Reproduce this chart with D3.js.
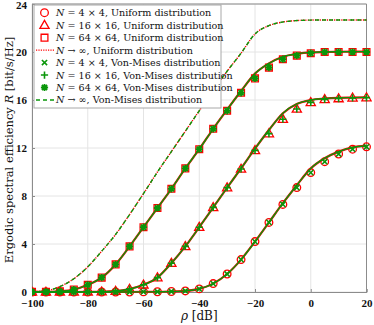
<!DOCTYPE html>
<html>
<head>
<meta charset="utf-8">
<script src="https://cdn.jsdelivr.net/npm/d3@7"></script>
<style>
  body { margin: 0; background: #fff; }
  svg { display: block; }
  .tick text { font-family: "Liberation Serif", "DejaVu Serif", serif; font-weight: bold; font-size: 11px; fill: #111; }
  .lab { font-family: "DejaVu Serif", "Liberation Serif", serif; fill: #111; }
</style>
</head>
<body>
<div id="chart"></div>
<script>
// SNR grid (dB)
const rho = [-100, -95, -90, -85, -80, -75, -70, -65, -60, -55, -50, -45, -40,
             -35, -30, -25, -20, -15, -10, -5, 0, 5, 10, 15, 20];

// N -> infinity (uniform and von-mises coincide)
const rInf = [0.02, 0.1, 0.45, 1.1, 2.1, 3.4, 4.8, 6.45, 8.2, 10.0, 11.7, 13.4, 15.1,
              16.8, 18.4, 19.9, 21.5, 22.2, 22.5, 22.62, 22.66, 22.67, 22.67, 22.67, 22.67];

// analytic curves (solid lines)
const line4  = [0, 0, 0, 0, 0, 0, 0, 0, 0.01, 0.02, 0.04, 0.09, 0.26,
                0.7, 1.5, 2.7, 4.2, 5.8, 7.4, 8.9, 10.3, 11.15, 11.7, 12.05, 12.17];
const line16 = [0, 0, 0, 0, 0.01, 0.02, 0.07, 0.25, 0.6, 1.2, 2.4, 3.8, 5.4,
                7.05, 8.7, 10.3, 11.95, 13.5, 14.9, 15.67, 16.0, 16.12, 16.18, 16.2, 16.22];
const line64 = [0.01, 0.02, 0.06, 0.2, 0.6, 1.2, 2.3, 3.8, 5.4, 7.0, 8.6, 10.3, 11.9,
                13.6, 15.2, 16.75, 18.2, 19.05, 19.6, 19.85, 19.97, 20.0, 20.02, 20.03, 20.03];

// simulated points (markers)
const sim4  = [0, 0, 0, 0, 0, 0, 0, 0, 0.01, 0.02, 0.04, 0.09, 0.26,
               0.7, 1.5, 2.7, 4.2, 5.8, 7.3, 8.7, 9.95, 10.86, 11.5, 11.9, 12.1];
const sim16 = [0, 0, 0, 0, 0.01, 0.02, 0.07, 0.25, 0.6, 1.2, 2.4, 3.8, 5.4,
               7.05, 8.7, 10.25, 11.8, 13.2, 14.4, 15.25, 15.8, 16.05, 16.12, 16.18, 16.2];
const sim64 = [0.01, 0.02, 0.06, 0.2, 0.6, 1.2, 2.3, 3.8, 5.4, 7.0, 8.6, 10.3, 11.9,
               13.6, 15.1, 16.6, 17.8, 18.7, 19.4, 19.7, 19.9, 20.0, 20.0, 20.0, 20.0];

const xTicks = [-100, -80, -60, -40, -20, 0, 20];
const yTicks = [0, 4, 8, 12, 16, 20, 24];

const legendLabels = [
  ["4 \u00d7 4", "Uniform distribution"],
  ["16 \u00d7 16", "Uniform distribution"],
  ["64 \u00d7 64", "Uniform distribution"],
  [null, "Uniform distribution"],
  ["4 \u00d7 4", "Von-Mises distribution"],
  ["16 \u00d7 16", "Von-Mises distribution"],
  ["64 \u00d7 64", "Von-Mises distribution"],
  [null, "Von-Mises distribution"]
];

const RED = "#ff0000", GREEN = "#0a960a";

const W = 374, H = 325;
const margin = { top: 4, right: 7.5, bottom: 33, left: 32 };

const svg = d3.select("#chart").append("svg")
    .attr("width", W).attr("height", H);

const x = d3.scaleLinear().domain([-100, 20]).range([margin.left, W - margin.right]);
const y = d3.scaleLinear().domain([0, 24]).range([H - margin.bottom, margin.top]);

// grid
svg.append("g").selectAll("line.gx").data(xTicks).join("line")
    .attr("x1", d => x(d)).attr("x2", d => x(d))
    .attr("y1", y(0)).attr("y2", y(24))
    .style("stroke", "#e4e4e4").style("stroke-width", 1);
svg.append("g").selectAll("line.gy").data(yTicks).join("line")
    .attr("x1", x(-100)).attr("x2", x(20))
    .attr("y1", d => y(d)).attr("y2", d => y(d))
    .style("stroke", "#e4e4e4").style("stroke-width", 1);

// axes
let xAxis = svg.append("g")
    .attr("transform", "translate(0," + y(0) + ")")
    .call(d3.axisBottom(x).tickValues(xTicks).tickSize(-3).tickPadding(7));
let yAxis = svg.append("g")
    .attr("transform", "translate(" + x(-100) + ",0)")
    .call(d3.axisLeft(y).tickValues(yTicks).tickSize(-3).tickPadding(5));
[xAxis, yAxis].forEach(a => {
    a.select(".domain").style("stroke", "#8c8c8c");
    a.selectAll(".tick line").style("stroke", "#8c8c8c");
});
// keep the top label inside the picture
yAxis.selectAll(".tick text").filter(d => d === 24).attr("dy", "0.45em");

// top / right box
svg.append("line").attr("x1", x(-100)).attr("x2", x(20)).attr("y1", y(24)).attr("y2", y(24))
    .style("stroke", "#8c8c8c");
svg.append("line").attr("x1", x(20)).attr("x2", x(20)).attr("y1", y(0)).attr("y2", y(24))
    .style("stroke", "#8c8c8c");

// clip so curves stay inside the axes
svg.append("clipPath").attr("id", "plotClip").append("rect")
    .attr("x", x(-100)).attr("y", y(24) - 6)
    .attr("width", x(20) - x(-100) + 6).attr("height", y(0) - y(24) + 12);

const plot = svg.append("g").attr("clip-path", "url(#plotClip)");

const lineGen = d3.line()
    .x((d, i) => x(rho[i]))
    .y(d => y(d))
    .curve(d3.curveMonotoneX);

// marker paths
function markerPath(type) {
    if (type === "circle") return d3.symbol(d3.symbolCircle, 46)();
    if (type === "square") return "M-3.4,-3.4H3.4V3.4H-3.4Z";
    if (type === "triangle") return "M0,-4.8L4.6,3.2H-4.6Z";
    if (type === "x") return "M-2.6,-2.6L2.6,2.6M-2.6,2.6L2.6,-2.6";
    if (type === "plus") return "M-3.6,0H3.6M0,-3.6V3.6";
    if (type === "star") return "M-3.6,0H3.6M0,-3.6V3.6M-2.6,-2.6L2.6,2.6M-2.6,2.6L2.6,-2.6";
}

function drawMarkers(g, data, type, color, width) {
    g.append("g").selectAll("path").data(data).join("path")
        .attr("transform", (d, i) => "translate(" + x(rho[i]) + "," + y(d) + ")")
        .attr("d", markerPath(type))
        .style("fill", "none")
        .style("stroke", color)
        .style("stroke-width", width);
}

// uniform (red)
[line4, line16, line64].forEach(l => {
    plot.append("path").datum(l).attr("d", lineGen)
        .style("fill", "none").style("stroke", RED).style("stroke-width", 2.2);
});
plot.append("path").datum(rInf).attr("d", lineGen)
    .style("fill", "none").style("stroke", RED).style("stroke-width", 1.4)
    .style("stroke-dasharray", "1.2,1.2");
drawMarkers(plot, sim4, "circle", RED, 1.3);
drawMarkers(plot, sim16, "triangle", RED, 1.3);
drawMarkers(plot, sim64, "square", RED, 1.3);

// von-mises (green)
[line4, line16, line64].forEach(l => {
    plot.append("path").datum(l).attr("d", lineGen)
        .style("fill", "none").style("stroke", GREEN).style("stroke-width", 1.4);
});
plot.append("path").datum(rInf).attr("d", lineGen)
    .style("fill", "none").style("stroke", GREEN).style("stroke-width", 1.4)
    .style("stroke-dasharray", "4,3");
drawMarkers(plot, sim4, "x", GREEN, 1.6);
drawMarkers(plot, sim16, "plus", GREEN, 1.6);
drawMarkers(plot, sim64, "star", GREEN, 1.8);

// axis labels
svg.append("text").attr("class", "lab")
    .attr("x", (x(-100) + x(20)) / 2).attr("y", 320)
    .attr("text-anchor", "middle").style("font-size", "12px")
    .html('<tspan font-style="italic">\u03c1</tspan> [dB]');

svg.append("text").attr("class", "lab")
    .attr("transform", "translate(13," + (y(12) + 2) + ") rotate(-90)")
    .attr("text-anchor", "middle").style("font-size", "11.5px")
    .html('Ergodic spectral efficiency <tspan font-style="italic">R</tspan> [bit/s/Hz]');

// legend
const leg = svg.append("g");
leg.append("rect")
    .attr("x", 34).attr("y", 5).attr("width", 187).attr("height", 103)
    .style("fill", "#fff").style("stroke", "#a8a8a8").style("stroke-width", 1);

const legTypes = [
    { m: "circle", c: RED, w: 1.3 }, { m: "triangle", c: RED, w: 1.3 }, { m: "square", c: RED, w: 1.3 },
    { l: "1.2,1.2", c: RED }, { m: "x", c: GREEN, w: 1.6 }, { m: "plus", c: GREEN, w: 1.6 },
    { m: "star", c: GREEN, w: 1.8 }, { l: "4,3", c: GREEN }
];

legendLabels.forEach((lab, i) => {
    let ry = 12.7 + i * 12.47;
    let t = legTypes[i];
    if (t.m) {
        leg.append("path").attr("transform", "translate(44.5," + ry + ")")
            .attr("d", markerPath(t.m))
            .style("fill", "none").style("stroke", t.c).style("stroke-width", t.w);
    } else {
        leg.append("line").attr("x1", 36).attr("x2", 54).attr("y1", ry).attr("y2", ry)
            .style("stroke", t.c).style("stroke-width", 1.4).style("stroke-dasharray", t.l);
    }
    let txt = leg.append("text").attr("class", "lab")
        .attr("x", 56).attr("y", ry + 3.5).style("font-size", "9.6px");
    if (lab[0]) {
        txt.html('<tspan font-style="italic">N</tspan> = ' + lab[0] + ', ' + lab[1]);
    } else {
        txt.html('<tspan font-style="italic">N</tspan> \u2192 \u221e, ' + lab[1]);
    }
});
</script>
</body>
</html>
